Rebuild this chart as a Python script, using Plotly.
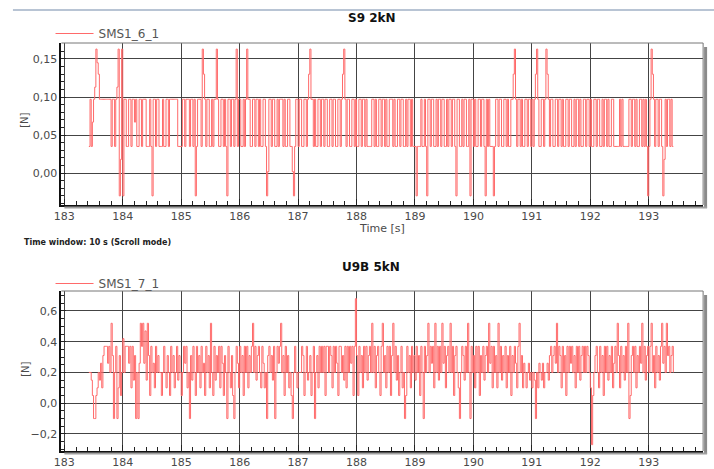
import numpy as np
import plotly.graph_objects as go

# ---------------- data ----------------
t_start = 183.42          # first sample [s]
dt = 0.02                 # sample spacing [s]

top_name = "SMS1_6_1"
top_title = "S9 2kN"
top_vals = [
    # 183.42 - 183.90
    0.035, 0.097, 0.035, 0.067, 0.097, 0.113, 0.163, 0.145, 0.13, 0.097,
    0.097, 0.097, 0.097, 0.097, 0.097, 0.097, 0.097, 0.097, 0.097, 0.035,
    0.097, 0.097, 0.035, 0.097, 0.113,
    # 183.92 - 184.40
    0.163, -0.03, 0.018, 0.163, -0.03, 0.097, 0.097, 0.035, 0.035, 0.097,
    0.097, 0.035, 0.097, 0.097, 0.067, 0.097, 0.035, 0.035, 0.097, 0.097,
    0.035, 0.097, 0.097, 0.097, 0.035,
    # 184.42 - 184.90
    0.035, 0.035, 0.097, 0.035, -0.03, 0.097, 0.097, 0.035, 0.097, 0.097,
    0.035, 0.035, 0.035, 0.097, 0.035, 0.035, 0.097, 0.097, 0.035, 0.097,
    0.097, 0.097, 0.097, 0.097, 0.097,
    # 184.92 - 185.40
    0.097, 0.035, 0.035, 0.035, 0.035, 0.097, 0.097, 0.035, 0.097, 0.097,
    0.097, 0.035, 0.097, 0.097, 0.035, 0.097, -0.03, 0.035, 0.097, 0.097,
    0.097, 0.035, 0.163, 0.13, 0.097,
    # 185.42 - 185.90
    0.035, 0.097, 0.097, 0.035, 0.035, 0.097, 0.035, 0.097, 0.097, 0.163,
    0.097, 0.035, 0.035, 0.097, 0.097, 0.035, 0.097, 0.035, -0.03, 0.097,
    0.097, 0.035, 0.097, 0.097, 0.035,
    # 185.92 - 186.40
    0.097, 0.163, 0.035, 0.097, 0.097, 0.035, 0.035, 0.097, 0.035, 0.097,
    0.163, 0.097, 0.097, 0.035, 0.035, 0.097, 0.097, 0.035, 0.097, 0.097,
    0.035, 0.097, 0.035, 0.035, 0.097,
    # 186.42 - 186.90
    0.097, 0.035, -0.03, 0.002, 0.097, 0.097, 0.035, 0.097, 0.097, 0.035,
    0.035, 0.097, 0.035, 0.097, 0.097, 0.097, 0.035, 0.097, 0.035, 0.035,
    0.097, 0.097, 0.035, 0.035, 0.002,
    # 186.92 - 187.40
    -0.03, 0.035, 0.097, 0.097, 0.035, 0.097, 0.097, 0.035, 0.035, 0.097,
    0.097, 0.035, 0.097, 0.13, 0.163, 0.097, 0.097, 0.035, 0.097, 0.035,
    0.035, 0.097, 0.097, 0.035, 0.097,
    # 187.42 - 187.90
    0.097, 0.035, 0.097, 0.097, 0.035, 0.035, 0.097, 0.097, 0.035, 0.097,
    0.097, 0.035, 0.035, 0.097, 0.097, 0.035, 0.097, 0.13, 0.163, 0.097,
    0.035, 0.097, 0.097, 0.035, 0.035,
    # 187.92 - 188.40
    0.097, 0.097, 0.035, 0.097, 0.035, 0.035, 0.097, 0.097, 0.035, 0.097,
    0.097, 0.035, 0.097, 0.035, 0.035, 0.035, 0.035, 0.097, 0.097, 0.035,
    0.097, 0.035, 0.035, 0.097, 0.097,
    # 188.42 - 188.90
    0.035, 0.097, 0.097, 0.035, 0.097, 0.035, 0.035, 0.097, 0.097, 0.097,
    0.035, 0.097, 0.035, 0.035, 0.097, 0.097, 0.035, 0.097, 0.097, 0.035,
    0.035, 0.097, 0.035, 0.097, 0.097,
    # 188.92 - 189.40
    0.035, 0.097, 0.035, 0.035, 0.035, -0.03, 0.035, 0.035, 0.035, 0.097,
    0.035, 0.035, 0.097, 0.035, -0.03, 0.097, 0.097, 0.035, 0.097, 0.097,
    0.035, 0.035, 0.097, 0.035, 0.097,
    # 189.42 - 189.90
    0.097, 0.035, 0.097, 0.097, 0.035, 0.035, 0.097, 0.035, 0.097, 0.097,
    0.035, 0.097, 0.097, 0.035, -0.03, 0.097, 0.097, 0.035, 0.035, 0.097,
    0.035, 0.097, 0.097, 0.035, 0.035,
    # 189.92 - 190.40
    0.097, -0.03, 0.097, 0.097, 0.035, 0.097, 0.035, 0.035, 0.097, 0.097,
    0.035, 0.097, 0.097, 0.035, -0.03, 0.097, 0.035, 0.097, 0.035, 0.035,
    0.035, -0.03, 0.035, 0.097, 0.097,
    # 190.42 - 190.90
    0.035, 0.097, 0.097, 0.035, 0.035, 0.097, 0.097, 0.035, 0.097, 0.035,
    0.035, 0.097, 0.097, 0.13, 0.163, 0.097, 0.035, 0.097, 0.097, 0.035,
    0.097, 0.035, 0.035, 0.097, 0.097,
    # 190.92 - 191.40
    0.035, 0.097, 0.097, 0.035, 0.097, 0.035, 0.097, 0.13, 0.163, 0.097,
    0.035, 0.035, 0.097, 0.097, 0.035, 0.097, 0.163, 0.13, 0.097, 0.035,
    0.097, 0.097, 0.035, 0.035, 0.097,
    # 191.42 - 191.90
    0.097, 0.035, 0.097, 0.097, 0.035, 0.097, 0.035, 0.035, 0.097, 0.097,
    0.035, 0.097, 0.097, 0.035, 0.035, 0.097, 0.035, 0.097, 0.097, 0.035,
    0.097, 0.035, 0.035, 0.097, 0.097,
    # 191.92 - 192.40
    0.035, 0.097, 0.097, 0.035, 0.097, 0.035, 0.035, 0.097, 0.097, 0.035,
    0.097, 0.097, 0.035, 0.035, 0.097, 0.035, 0.097, 0.097, 0.035, 0.097,
    0.035, 0.035, 0.097, 0.097, 0.035,
    # 192.42 - 192.90
    0.035, 0.035, 0.035, 0.035, 0.097, 0.035, 0.097, 0.035, 0.035, 0.035,
    0.035, 0.035, 0.097, 0.097, 0.035, 0.097, 0.097, 0.035, 0.097, 0.035,
    0.035, 0.097, 0.097, 0.035, 0.097,
    # 192.92 - 193.40
    0.035, 0.097, 0.035, -0.03, 0.035, 0.097, 0.163, 0.13, 0.097, 0.035,
    0.097, 0.097, 0.035, 0.097, 0.097, 0.035, -0.03, 0.018, 0.097, 0.035,
    0.097, 0.097, 0.035, 0.097, 0.035,
    # 193.42
    0.035,
]

bot_name = "SMS1_7_1"
bot_title = "U9B 5kN"
bot_vals = [
    # 183.42 - 183.90
    0.2, 0.2, 0.15, 0.05, -0.1, -0.1, 0.05, 0.1, 0.2, 0.15,
    0.26, 0.1, 0.31, 0.37, 0.37, 0.37, 0.26, 0.37, 0.2, 0.52,
    0.31, -0.1, 0.2, 0.37, -0.1,
    # 183.92 - 184.40
    0.1, 0.31, 0.05, 0.2, 0.42, 0.2, 0.37, 0.37, 0.37, 0.26,
    0.37, 0.1, 0.37, 0.15, 0.31, -0.1, 0.2, -0.1, 0.26, 0.52,
    0.37, 0.52, 0.26, 0.47, 0.15,
    # 184.42 - 184.90
    0.52, 0.31, 0.05, 0.37, 0.2, 0.26, 0.1, 0.37, 0.2, 0.31,
    0.2, 0.2, 0.05, 0.2, 0.37, 0.2, 0.1, 0.31, 0.2, 0.05,
    0.37, 0.2, 0.31, 0.1, 0.2,
    # 184.92 - 185.40
    0.37, 0.15, 0.31, 0.2, 0.05, 0.2, 0.37, 0.26, 0.37, 0.1,
    0.2, -0.1, 0.31, 0.15, 0.37, 0.2, 0.05, 0.37, 0.2, 0.31,
    0.1, 0.37, 0.2, 0.26, 0.05,
    # 185.42 - 185.90
    0.37, 0.2, 0.31, 0.1, 0.52, 0.2, 0.05, 0.37, 0.15, 0.31,
    0.2, 0.37, 0.1, 0.37, 0.26, 0.05, 0.31, 0.2, -0.1, 0.37,
    0.2, 0.1, 0.31, 0.05, -0.1,
    # 185.92 - 186.40
    0.2, 0.37, 0.26, 0.1, 0.37, 0.2, 0.31, 0.05, 0.37, 0.2,
    0.37, 0.1, 0.31, 0.2, 0.37, 0.52, 0.2, 0.37, 0.15, 0.31,
    0.37, 0.2, 0.1, 0.37, 0.26,
    # 186.42 - 186.90
    0.1, 0.2, -0.1, 0.31, 0.37, 0.2, 0.31, 0.15, 0.37, -0.1,
    0.2, 0.37, 0.26, 0.37, 0.52, 0.2, 0.31, 0.05, 0.37, 0.2,
    0.31, 0.1, 0.2, 0.05, -0.1,
    # 186.92 - 187.40
    0.2, 0.37, 0.2, 0.1, 0.2, 0.2, 0.2, 0.37, 0.31, 0.05,
    0.2, 0.37, 0.15, 0.2, 0.31, 0.05, 0.2, 0.37, -0.1, 0.2,
    0.31, 0.1, 0.37, 0.2, 0.37,
    # 187.42 - 187.90
    0.2, 0.37, 0.05, 0.37, 0.37, 0.2, 0.37, 0.31, 0.1, 0.37,
    0.2, 0.37, 0.26, 0.05, 0.37, 0.37, 0.2, 0.31, 0.15, 0.37,
    0.1, 0.37, 0.2, 0.37, 0.26,
    # 187.92 - 188.40
    0.37, 0.05, 0.37, 0.68, 0.31, 0.05, 0.37, 0.2, 0.31, 0.1,
    0.37, 0.2, 0.37, 0.15, 0.31, 0.37, 0.2, 0.52, 0.2, 0.37,
    0.1, 0.31, 0.37, 0.2, 0.05,
    # 188.42 - 188.90
    0.37, 0.52, 0.2, 0.31, 0.1, 0.37, 0.2, 0.37, 0.05, 0.31,
    0.52, 0.2, 0.37, 0.15, 0.31, 0.05, 0.2, 0.37, 0.1, 0.2,
    -0.1, 0.05, 0.37, 0.2, 0.31,
    # 188.92 - 189.40
    0.1, 0.37, 0.2, 0.31, 0.15, 0.37, 0.2, 0.31, 0.05, 0.37,
    0.2, -0.1, 0.37, 0.2, 0.31, 0.52, 0.2, 0.37, 0.26, 0.37,
    0.1, 0.52, 0.2, 0.37, 0.15,
    # 189.42 - 189.90
    0.37, 0.2, 0.52, 0.26, 0.37, 0.1, 0.31, 0.37, 0.2, 0.52,
    0.2, 0.37, 0.05, 0.31, 0.37, 0.2, 0.1, -0.1, 0.2, 0.37,
    0.31, 0.15, 0.37, 0.2, 0.52,
    # 189.92 - 190.40
    0.2, -0.1, 0.37, 0.2, 0.31, 0.1, 0.37, 0.2, 0.37, 0.05,
    0.31, 0.2, 0.37, 0.15, 0.31, 0.37, 0.2, 0.52, 0.26, 0.37,
    0.1, 0.37, 0.2, 0.31, 0.1,
    # 190.42 - 190.90
    0.52, 0.2, 0.37, 0.15, 0.31, 0.2, 0.37, 0.1, 0.31, 0.2,
    0.37, 0.05, 0.31, 0.2, 0.37, 0.26, 0.1, 0.37, 0.52, 0.2,
    0.31, 0.1, 0.26, 0.2, 0.1,
    # 190.92 - 191.40
    0.2, 0.26, 0.15, 0.2, 0.1, 0.2, 0.15, -0.1, 0.2, 0.1,
    0.26, 0.2, 0.15, 0.26, 0.1, 0.2, 0.2, 0.26, 0.15, 0.31,
    0.37, 0.2, 0.31, 0.37, 0.26,
    # 191.42 - 191.90
    0.52, 0.2, 0.37, 0.31, 0.1, 0.37, 0.2, 0.31, 0.05, 0.37,
    0.2, 0.37, 0.26, 0.37, 0.2, 0.31, 0.1, 0.37, 0.2, 0.37,
    0.15, 0.31, 0.37, 0.2, 0.37,
    # 191.92 - 192.40
    0.2, 0.37, 0.31, 0.2, 0.1, -0.27, 0.05, 0.2, 0.31, 0.37,
    0.2, 0.1, 0.37, 0.2, 0.31, 0.05, 0.37, 0.2, 0.37, 0.15,
    0.31, 0.2, 0.37, 0.1, 0.26,
    # 192.42 - 192.90
    0.37, 0.2, 0.52, 0.31, 0.1, 0.37, 0.2, 0.31, 0.15, 0.37,
    0.2, 0.52, -0.1, 0.05, 0.31, 0.37, 0.2, 0.37, 0.1, 0.31,
    0.2, 0.37, 0.26, 0.52, 0.2,
    # 192.92 - 193.40
    0.37, 0.15, 0.31, 0.37, 0.2, 0.37, 0.52, 0.2, 0.31, 0.1,
    0.37, 0.2, 0.31, 0.15, 0.37, 0.52, 0.26, 0.37, 0.2, 0.52,
    0.31, 0.37, 0.2, 0.31, 0.37,
    # 193.42
    0.2,
]

x_ticks = [183, 184, 185, 186, 187, 188, 189, 190, 191, 192, 193]
top_yticks = [0.0, 0.05, 0.10, 0.15]
bot_yticks = [-0.2, 0.0, 0.2, 0.4, 0.6]

# ---------------- figure ----------------
W, H = 714, 469
def py(pix):  # pixel row (from top) -> paper y
    return 1 - pix / H
def px(pix):
    return pix / W

sig_color = "#ff6a6a"
t_top = t_start + dt * np.arange(len(top_vals))
t_bot = t_start + dt * np.arange(len(bot_vals))

fig = go.Figure()
fig.add_trace(go.Scatter(x=t_top, y=top_vals, mode="lines", name=top_name,
                         line=dict(color=sig_color, width=1, shape="hv"),
                         xaxis="x", yaxis="y", legend="legend"))
fig.add_trace(go.Scatter(x=t_bot, y=bot_vals, mode="lines", name=bot_name,
                         line=dict(color=sig_color, width=1, shape="hv"),
                         xaxis="x2", yaxis="y2", legend="legend2"))

xdom = [px(54), px(703)]
tick_font = dict(family="DejaVu Sans", size=11, color="#4a4a4a")
grid_col = "#444444"

common_x = dict(range=[182.95, 193.93], tickvals=x_ticks, ticks="inside", ticklen=6,
                tickcolor="#222", showgrid=True, gridcolor=grid_col, gridwidth=1,
                showline=True, linecolor="#111", linewidth=2, zeroline=False,
                tickfont=tick_font, domain=xdom,
                minor=dict(dtick=0.2, tick0=183, ticks="inside", ticklen=4,
                           tickcolor="#222", showgrid=False))
common_y = dict(ticks="inside", ticklen=5, tickcolor="#222", showgrid=True,
                gridcolor=grid_col, gridwidth=1, showline=True, linecolor="#111",
                linewidth=2, zeroline=False, tickfont=tick_font)

legend_font = dict(family="DejaVu Sans", size=12, color="#555")
fig.update_layout(
    width=W, height=H, margin=dict(l=0, r=0, t=0, b=0),
    paper_bgcolor="white", plot_bgcolor="white",
    separators=", ",
    xaxis=dict(common_x, anchor="y"),
    yaxis=dict(common_y, domain=[py(205), py(43)], range=[-0.042, 0.171],
               tickvals=top_yticks, tickformat=".2f", anchor="x",
               minor=dict(dtick=0.01, tick0=0, ticks="inside", ticklen=3,
                          tickcolor="#222", showgrid=False)),
    xaxis2=dict(common_x, anchor="y2"),
    yaxis2=dict(common_y, domain=[py(451), py(291)], range=[-0.311, 0.730],
                tickvals=bot_yticks, tickformat=".1f", anchor="x2",
                minor=dict(dtick=0.05, tick0=0, ticks="inside", ticklen=3,
                           tickcolor="#222", showgrid=False)),
    legend=dict(x=px(43), y=py(19), xanchor="left", yanchor="top", itemwidth=38,
                bgcolor="rgba(0,0,0,0)", font=legend_font),
    legend2=dict(x=px(43), y=py(269), xanchor="left", yanchor="top", itemwidth=38,
                 bgcolor="rgba(0,0,0,0)", font=legend_font),
    showlegend=True,
)

title_font = dict(family="DejaVu Sans", size=12, color="#111")
ann = [
    dict(text="<b>%s</b>" % top_title, x=px(368), y=py(18), font=title_font),
    dict(text="<b>%s</b>" % bot_title, x=px(367), y=py(267), font=title_font),
    dict(text="Time [s]", x=px(378), y=py(228), font=dict(family="DejaVu Sans", size=11, color="#4a4a4a")),
    dict(text="<b>Time window: 10 s (Scroll mode)</b>", x=px(14), y=py(243), xanchor="left",
         font=dict(family="DejaVu Sans", size=8, color="#222")),
    dict(text="[N]", x=px(16), y=py(120), textangle=-90, font=dict(family="DejaVu Sans", size=10, color="#4a4a4a")),
    dict(text="[N]", x=px(17), y=py(369), textangle=-90, font=dict(family="DejaVu Sans", size=10, color="#4a4a4a")),
]
for a in ann:
    a.setdefault("xanchor", "center")
    a.update(xref="paper", yref="paper", yanchor="middle", showarrow=False)
fig.update_layout(annotations=ann)

shapes = [
    dict(type="line", xref="paper", yref="paper", x0=px(5), x1=1, y0=py(10), y1=py(10),
         line=dict(color="#b8c4d4", width=2)),
]
for top, bot in [(43, 205), (291, 451)]:
    shapes += [
        dict(type="line", xref="paper", yref="paper", x0=xdom[0], x1=xdom[1], y0=py(top), y1=py(top),
             line=dict(color="#777", width=1)),
        dict(type="line", xref="paper", yref="paper", x0=xdom[1], x1=xdom[1], y0=py(top), y1=py(bot),
             line=dict(color="#777", width=1)),
        dict(type="line", xref="paper", yref="paper", x0=px(705.5), x1=px(705.5), y0=py(top + 4), y1=py(bot + 3),
             line=dict(color="#8a8a8a", width=3)),
        dict(type="line", xref="paper", yref="paper", x0=px(57), x1=px(707), y0=py(bot + 2.5), y1=py(bot + 2.5),
             line=dict(color="#a0a0a0", width=2)),
    ]
fig.update_layout(shapes=shapes)

fig.write_html("out.html", config={"displayModeBar": False},
               post_script="document.body.style.margin='0px';")
